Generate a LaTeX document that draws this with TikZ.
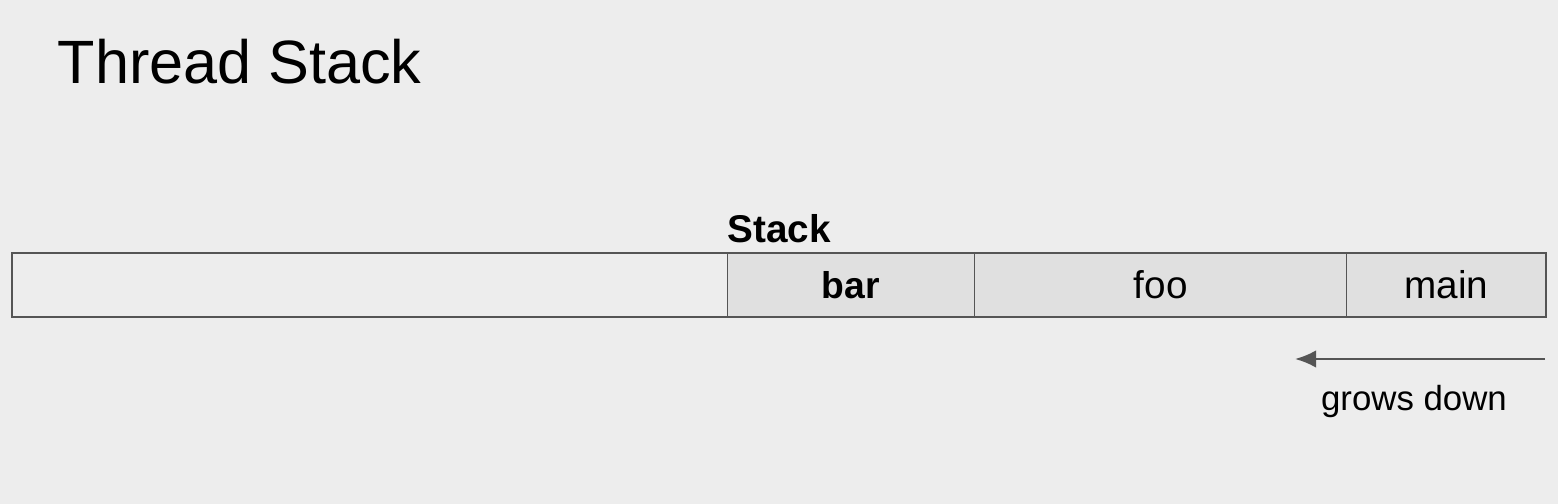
\documentclass[tikz,border=0pt]{standalone}
\usepackage{fontspec}
\setmainfont{Liberation Sans}
\usetikzlibrary{positioning, arrows.meta}

\definecolor{bgcol}{HTML}{EDEDED}
\definecolor{cellcol}{HTML}{E0E0E0}
\definecolor{edgecol}{HTML}{555555}

\begin{document}
\begin{tikzpicture}[x=0.01cm, y=-0.01cm,
    cell/.style={draw=edgecol, line width=0.4pt, fill=cellcol, minimum height=0.64cm,
                 outer sep=0pt, inner sep=0pt, font=\fontsize{11}{13}\selectfont},
    label/.style={inner sep=0pt, text=black}]
    % background and frame size
    \fill[bgcol] (0,0) rectangle (1558,504);
    \useasboundingbox (0,0) rectangle (1558,504);

    \node[label, anchor=base west, font=\fontsize{17.4}{20}\selectfont] (title) at (57,84) {Thread Stack};

    % the stack cells
    \node[cell, fill=bgcol, minimum width=7.15cm, anchor=north west] (free) at (12,253) {};
    \node[cell, minimum width=2.47cm, right=0pt of free, font=\fontsize{10.6}{13}\selectfont\bfseries] (bar) {bar};
    \node[cell, minimum width=3.72cm, right=0pt of bar] (foo) {foo};
    \node[cell, minimum width=1.99cm, right=0pt of foo] (main) {main};
    \draw[edgecol, line width=0.65pt] (free.north west) rectangle (main.south east);

    \node[label, anchor=base west, font=\fontsize{11}{13}\selectfont\bfseries] (stack) at (727,243) {Stack};

    % growth direction
    \coordinate (growstart) at (1545,359);
    \coordinate (growend) at (1295,359);
    \draw[edgecol, line width=0.7pt, -{Latex[length=6pt, width=5pt]}] (growstart) -- (growend);
    \node[label, anchor=base, font=\fontsize{9.9}{12}\selectfont] (grows) at (1414,411) {grows down};
\end{tikzpicture}
\end{document}
